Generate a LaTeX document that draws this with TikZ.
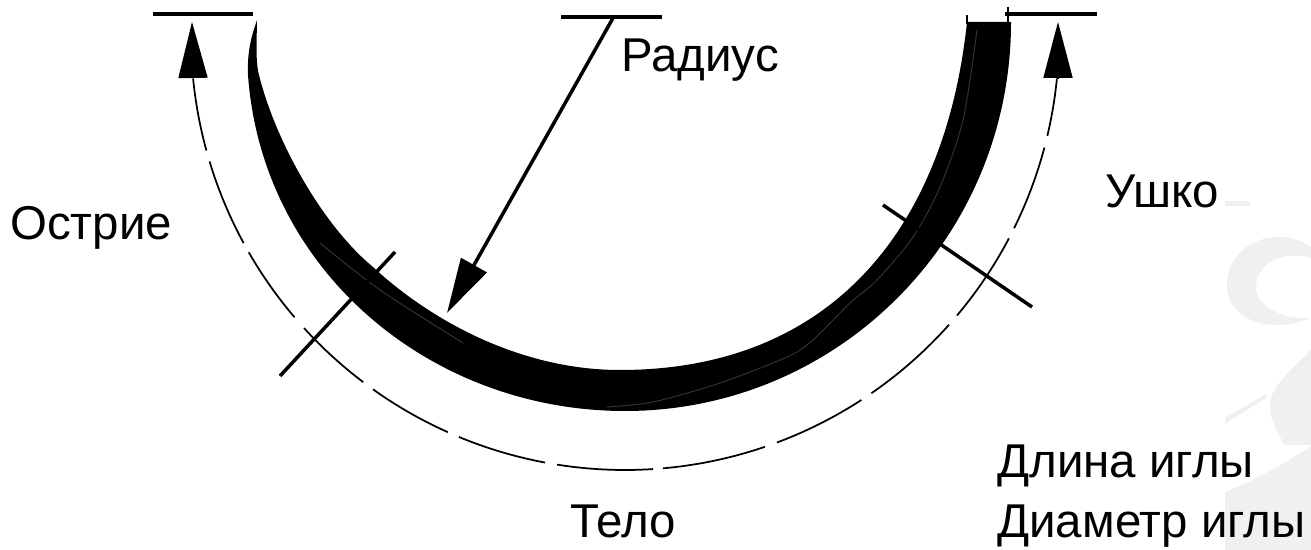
\documentclass[tikz,border=0pt]{standalone}
\usepackage{fontspec}
\setmainfont{Liberation Sans}
\usetikzlibrary{arrows.meta}
\definecolor{wmgray}{RGB}{240,240,240}
\definecolor{streak}{RGB}{50,50,50}
\begin{document}
\begin{tikzpicture}[
  x=0.02cm,y=-0.02cm,
  lbl/.style={font=\fontsize{27}{34}\selectfont,anchor=base west,inner sep=0pt,align=left},
  bar/.style={line width=0.09cm},
  tick/.style={line width=0.07cm},
  nick/.style={line width=0.04cm},
  lenarc/.style={line width=0.035cm},
  lenhead/.style={line width=0.035cm,-{Triangle[length=1.12cm,width=0.58cm]}},
  radarrow/.style={line width=0.07cm,-{Triangle[length=1.1cm,width=0.58cm]}}
]
  \useasboundingbox (0,0) rectangle (1311,550);
  \begin{scope}
    \clip (1225,190) rectangle (1311,550);
    \fill[wmgray] (1225,201) rectangle (1250,206);
    \fill[wmgray] (1311,247) .. controls (1280,225) and (1228,240) .. (1227,285)
      .. controls (1227,320) and (1270,335) .. (1311,318)
      .. controls (1280,320) and (1255,305) .. (1256,285)
      .. controls (1258,262) and (1285,250) .. (1311,258) -- cycle;
    \fill[wmgray] (1311,350) .. controls (1285,375) and (1268,390) .. (1270,410)
      .. controls (1272,425) and (1280,435) .. (1284,445) -- (1311,445) -- cycle;
    \fill[wmgray] (1225,418) -- (1266,394) -- (1266,398) -- (1225,424) -- cycle;
    \fill[wmgray] (1225,492) .. controls (1260,478) and (1290,460) .. (1311,446)
      -- (1311,550) -- (1225,550) -- cycle;
  \end{scope}

  \coordinate (tipL) at (192,22);
  \coordinate (baseL) at (193,78);
  \coordinate (tipR) at (1058,22);
  \coordinate (baseR) at (1058,78);
  \coordinate (barLa) at (153,14);
  \coordinate (barLb) at (253,14);
  \coordinate (barMa) at (561,17);
  \coordinate (barMb) at (662,17);
  \coordinate (barRa) at (1005,14);
  \coordinate (barRb) at (1097,14);
  \coordinate (radS) at (613,18);
  \coordinate (radE) at (447,313);
  \coordinate (tickLa) at (395,252);
  \coordinate (tickLb) at (280,376);
  \coordinate (tickRa) at (883,205);
  \coordinate (tickRb) at (1032,307);
  \coordinate (nickAa) at (1008,7);
  \coordinate (nickAb) at (1008,22);
  \coordinate (nickBa) at (967,15);
  \coordinate (nickBb) at (967,24);

  \fill (257,20) .. controls (252,35) and (247,50) .. (248,75)
    .. controls (262,270) and (430,411) .. (625,411)
    .. controls (838,411) and (1011,238) .. (1011,22)
    -- (967,22)
    .. controls (945,230) and (830,370) .. (620,370)
    .. controls (520,370) and (430,320) .. (373,267)
    .. controls (322,225) and (275,140) .. (259,75)
    .. controls (255,60) and (257,35) .. (257,20) -- cycle;
  \draw[streak,line width=0.02cm] plot[smooth] coordinates {(977,30) (963,120) (940,187) (913,237) (877,280) (850,303) (813,340) (787,357) (720,383) (653,402) (607,407)};
  \draw[streak,line width=0.02cm] plot[smooth] coordinates {(320,243) (380,290) (463,343)};

  \draw[bar] (barLa) -- (barLb);
  \draw[bar] (barMa) -- (barMb);
  \draw[bar] (barRa) -- (barRb);
  \draw[nick] (nickAa) -- (nickAb);
  \draw[nick] (nickBa) -- (nickBb);
  \draw[tick] (tickLa) -- (tickLb);
  \draw[tick] (tickRa) -- (tickRb);
  \draw[radarrow] (radS) -- (radE);

  \foreach \from/\to in {174.4/164.7,163.2/151.5,150.1/139.6,137.7/127.1,125.5/114.1,112.5/100.6,99/86.3,85/71.2,69.5/57,55.4/41.7,40.1/27.8,26.3/14.9,13.3/5.6}
    \draw[lenarc] plot[domain=\from:\to,samples=20,smooth] ({625+434*cos(\x)},{36+434*sin(\x)});
  \draw[lenhead] (baseL) -- (tipL);
  \draw[lenhead] (baseR) -- (tipR);

  \node[lbl] (radius) at (621,72) {Радиус};
  \node[lbl] (point) at (10,240) {Острие};
  \node[lbl] (eye) at (1105,208) {Ушко};
  \node[lbl] (body) at (570,537) {Тело};
  \node[lbl] (dims) at (997,537) {Длина иглы\\Диаметр иглы};
\end{tikzpicture}
\end{document}
